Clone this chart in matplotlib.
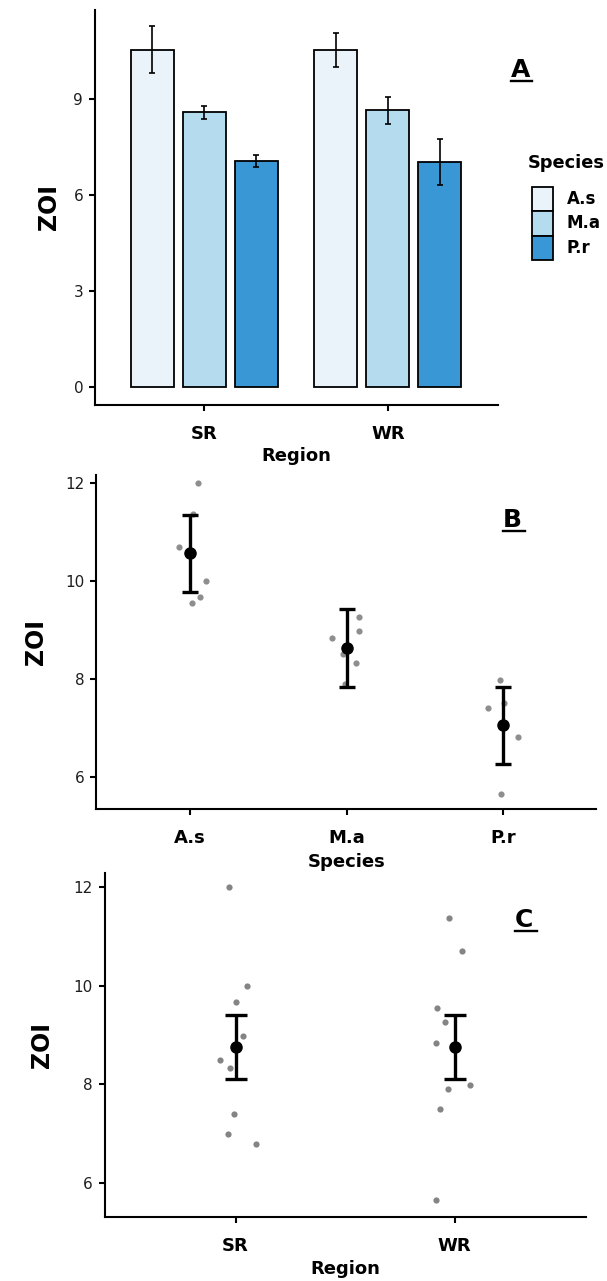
import matplotlib
matplotlib.use("Agg")
import matplotlib.pyplot as plt
import numpy as np
from matplotlib.lines import Line2D
from matplotlib.patches import Rectangle

plt.rcParams['font.family'] = ['DejaVu Sans']

# ---------------- data ----------------
regions = ["SR", "WR"]
species = ["A.s", "M.a", "P.r"]
species_colors = ["#EAF2FA", "#B5DCEE", "#3A97D6"]

# Panel A: mean ZOI and SE per region x species
bar_mean_SR = [10.56, 8.60, 7.07]
bar_se_SR = [0.73, 0.20, 0.18]
bar_mean_WR = [10.55, 8.66, 7.04]
bar_se_WR = [0.54, 0.42, 0.73]

# Observations (species, region, ZOI)
obs_species = ["A.s", "A.s", "A.s", "A.s", "A.s", "A.s",
               "M.a", "M.a", "M.a", "M.a", "M.a", "M.a",
               "P.r", "P.r", "P.r", "P.r", "P.r", "P.r"]
obs_region = ["SR", "SR", "SR", "WR", "WR", "WR",
              "SR", "SR", "SR", "WR", "WR", "WR",
              "SR", "SR", "SR", "WR", "WR", "WR"]
obs_zoi = [12.00, 10.00, 9.67, 11.37, 10.70, 9.55,
           8.97, 8.50, 8.33, 9.27, 8.83, 7.90,
           7.40, 6.99, 6.80, 7.98, 7.50, 5.65]
jitter_B = [0.052, 0.102, 0.062, 0.017, -0.072, 0.012,
            0.082, -0.020, 0.057, 0.079, -0.094, -0.007,
            -0.094, 0.000, 0.094, -0.017, 0.007, -0.015]
jitter_C = [-0.032, 0.053, 0.004, -0.028, 0.032, -0.081,
            0.034, -0.073, -0.027, -0.042, -0.087, -0.030,
            -0.009, -0.035, 0.094, 0.069, -0.067, -0.087]

# Panel B: species means and error
spec_mean = [10.56, 8.63, 7.05]
spec_err = [0.78, 0.79, 0.79]
# Panel C: region means and error
reg_mean = [8.75, 8.75]
reg_err = [0.65, 0.65]

yticks_A = [0, 3, 6, 9]
yticks_BC = [6, 8, 10, 12]

# ---------------- figure ----------------
W, H = 607, 1281
fig = plt.figure(figsize=(W / 100, H / 100), dpi=100)


def add_ax(left, top, right, bottom):
    return fig.add_axes([left / W, 1 - bottom / H, (right - left) / W, (bottom - top) / H])


def style(ax):
    for s in ["top", "right"]:
        ax.spines[s].set_visible(False)
    for s in ["left", "bottom"]:
        ax.spines[s].set_linewidth(1.5)
        ax.spines[s].set_color("black")
    ax.tick_params(axis="both", direction="out", length=4.5, width=1.5, color="black")
    ax.tick_params(axis="y", labelsize=11, labelcolor="#1e1e1e", pad=4)
    ax.tick_params(axis="x", labelsize=13, pad=10)
    for lab in ax.get_xticklabels():
        lab.set_fontweight("bold")


def panel_letter(x, y_top, text, w):
    fig.text(x / W, 1 - y_top / H, text, fontsize=18, fontweight="bold",
             ha="left", va="top")
    fig.add_artist(Line2D([x / W, (x + w) / W], [1 - (y_top + 23) / H] * 2,
                          color="black", linewidth=1.7))


# ---------- Panel A ----------
axA = add_ax(95, 10, 498.4, 405)
xpos = np.arange(len(regions))
step = 0.2834
bw = 0.235
for i, sp in enumerate(species):
    means = [bar_mean_SR[i], bar_mean_WR[i]]
    ses = [bar_se_SR[i], bar_se_WR[i]]
    axA.bar(xpos + (i - 1) * step, means, width=bw, color=species_colors[i],
            edgecolor="black", linewidth=1.3, label=sp, zorder=2)
    axA.errorbar(xpos + (i - 1) * step, means, yerr=ses, fmt="none",
                 ecolor="black", elinewidth=1.2, capsize=2.3, capthick=1.2, zorder=3)
axA.set_xlim(-0.596, 1.602)
axA.set_ylim(-0.57, 11.8)
axA.set_yticks(yticks_A)
axA.set_xticks(xpos)
axA.set_xticklabels(regions)
style(axA)
axA.set_ylabel("ZOI", fontsize=17, fontweight="bold", labelpad=9)
axA.set_xlabel("Region", fontsize=13, fontweight="bold", labelpad=3)

# legend (drawn in pixel layout)
fig.text(527.5 / W, 1 - 163 / H, "Species", fontsize=12.8, fontweight="bold",
         ha="left", va="center")
key_top = 187
key_h = 24.3
for i, sp in enumerate(species):
    y0 = key_top + i * key_h
    fig.add_artist(Rectangle((531.5 / W, 1 - (y0 + key_h) / H), 21 / W, key_h / H,
                             transform=fig.transFigure, facecolor=species_colors[i],
                             edgecolor="black", linewidth=1.3))
    fig.text(567 / W, 1 - (y0 + key_h / 2) / H, sp, fontsize=12, fontweight="bold",
             ha="left", va="center")
panel_letter(511, 58, "A", 21)

# ---------- Panel B ----------
axB = add_ax(96.2, 475, 596.2, 809)
sp_idx = {s: i for i, s in enumerate(species)}
xb = [sp_idx[s] + j for s, j in zip(obs_species, jitter_B)]
axB.scatter(xb, obs_zoi, s=20, color="#7a7a7a", alpha=0.85, linewidths=0, zorder=2)
axB.errorbar(np.arange(len(species)), spec_mean, yerr=spec_err, fmt="o", color="black",
             markersize=8, elinewidth=2.4, capsize=6, capthick=2.4, zorder=3)
axB.set_xlim(-0.6, 2.595)
axB.set_ylim(5.34, 12.16)
axB.set_yticks(yticks_BC)
axB.set_xticks(np.arange(len(species)))
axB.set_xticklabels(species)
style(axB)
axB.set_ylabel("ZOI", fontsize=17, fontweight="bold", labelpad=12)
axB.set_xlabel("Species", fontsize=13, fontweight="bold", labelpad=4)
panel_letter(503, 508, "B", 22)

# ---------- Panel C ----------
axC = add_ax(104.7, 873, 585.7, 1216.7)
rg_idx = {r: i for i, r in enumerate(regions)}
xc = [rg_idx[r] + j for r, j in zip(obs_region, jitter_C)]
axC.scatter(xc, obs_zoi, s=20, color="#6e6e6e", alpha=0.85, linewidths=0, zorder=2)
axC.errorbar(np.arange(len(regions)), reg_mean, yerr=reg_err, fmt="o", color="black",
             markersize=8, elinewidth=2.4, capsize=8, capthick=2.4, zorder=3)
axC.set_xlim(-0.597, 1.598)
axC.set_ylim(5.32, 12.28)
axC.set_yticks(yticks_BC)
axC.set_xticks(np.arange(len(regions)))
axC.set_xticklabels(regions)
style(axC)
axC.set_ylabel("ZOI", fontsize=17, fontweight="bold", labelpad=14)
axC.set_xlabel("Region", fontsize=13, fontweight="bold", labelpad=4)
panel_letter(514.7, 908, "C", 22.5)

fig.savefig("out.png", dpi=100)
